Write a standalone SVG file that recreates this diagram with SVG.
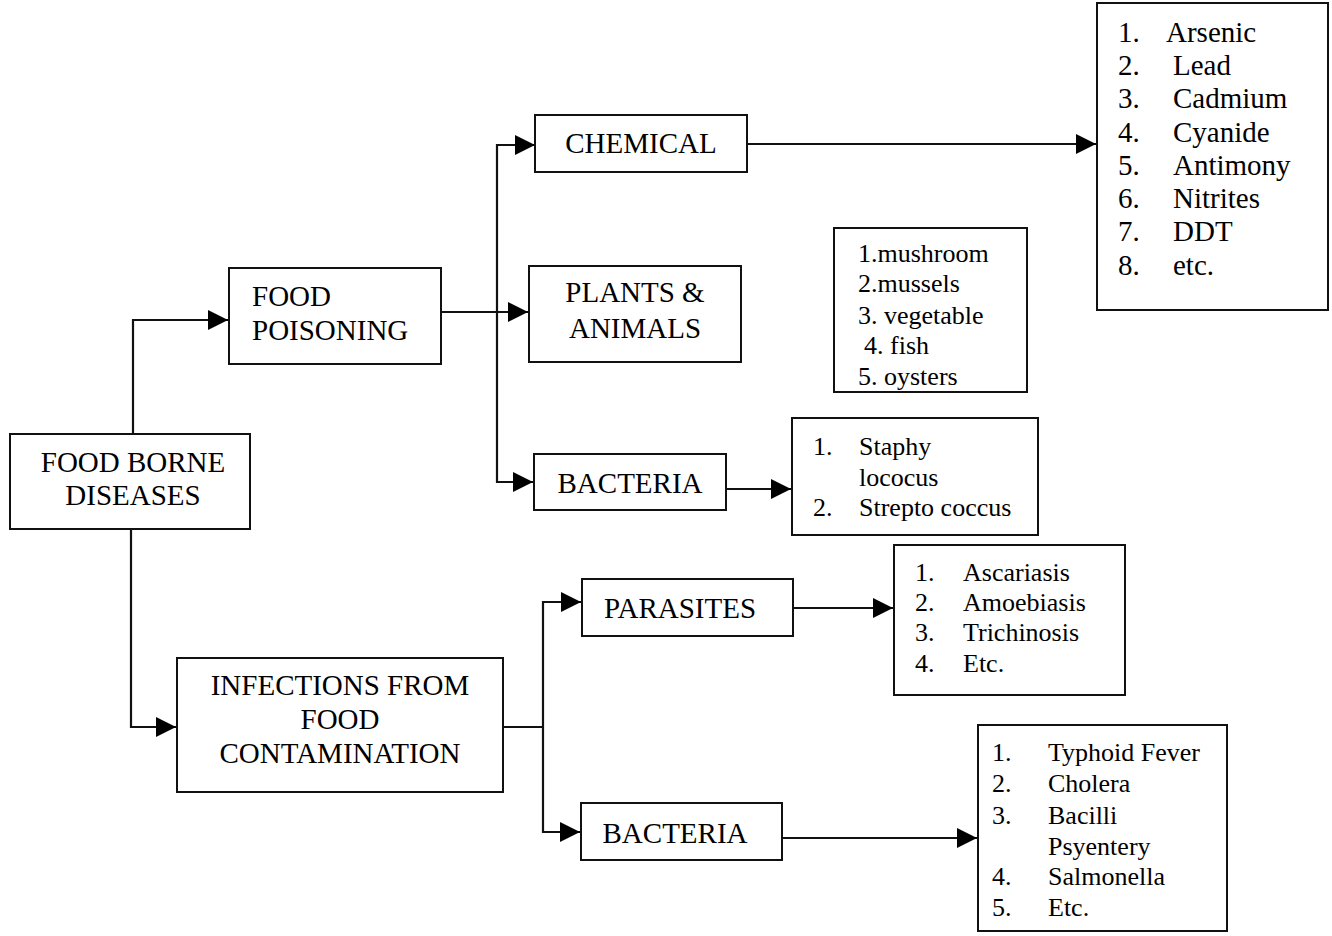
<svg xmlns="http://www.w3.org/2000/svg" width="1332" height="936" viewBox="0 0 1332 936">
<style>
.box{fill:#fff;stroke:#111;stroke-width:2}
.ln{fill:none;stroke:#111;stroke-width:2.2}
.arr{marker-end:url(#ah)}
text{font-family:"Liberation Serif","Times New Roman",serif;fill:#000}
.lb{font-size:29px}
.ls{font-size:26px}
.c{text-anchor:middle}
</style>
<defs>
<marker id="ah" viewBox="0 0 20 20" refX="20" refY="10" markerWidth="20" markerHeight="20" markerUnits="userSpaceOnUse" orient="auto">
<path d="M0,0 L20,10 L0,20 z" fill="#000"/>
</marker>
</defs>
<rect width="1332" height="936" fill="#fff"/>

<g id="connectors">
<path class="ln arr" d="M133,434 V320 H228"/>
<path class="ln arr" d="M131,529 V727 H176"/>
<path class="ln arr" d="M441,312 H528"/>
<path class="ln arr" d="M497,312 V145 H535"/>
<path class="ln arr" d="M497,312 V482 H533"/>
<path class="ln arr" d="M747,144 H1096"/>
<path class="ln arr" d="M726,489 H791"/>
<path class="ln" d="M503,727 H543"/>
<path class="ln arr" d="M543,727 V602 H581"/>
<path class="ln arr" d="M543,727 V832 H580"/>
<path class="ln arr" d="M793,608 H893"/>
<path class="ln arr" d="M782,838 H977"/>
</g>

<g id="food-borne">
<rect class="box" x="10" y="434" width="240" height="95"/>
<text class="lb c" x="133" y="472">FOOD BORNE</text>
<text class="lb c" x="133" y="505">DISEASES</text>
</g>

<g id="food-poisoning">
<rect class="box" x="229" y="268" width="212" height="96"/>
<text class="lb" x="252" y="306">FOOD</text>
<text class="lb" x="252" y="340">POISONING</text>
</g>

<g id="chemical">
<rect class="box" x="535" y="115" width="212" height="57"/>
<text class="lb c" x="641" y="153">CHEMICAL</text>
</g>

<g id="plants-animals">
<rect class="box" x="529" y="266" width="212" height="96"/>
<text class="lb c" x="635" y="302">PLANTS &amp;</text>
<text class="lb c" x="635" y="338">ANIMALS</text>
</g>

<g id="bacteria-poison">
<rect class="box" x="534" y="454" width="192" height="56"/>
<text class="lb c" x="630" y="493">BACTERIA</text>
</g>

<g id="chemical-list">
<rect class="box" x="1097" y="3" width="231" height="307"/>
<text class="lb" x="1118" y="42">1.</text><text class="lb" x="1166" y="42">Arsenic</text>
<text class="lb" x="1118" y="75">2.</text><text class="lb" x="1173" y="75">Lead</text>
<text class="lb" x="1118" y="108">3.</text><text class="lb" x="1173" y="108">Cadmium</text>
<text class="lb" x="1118" y="142">4.</text><text class="lb" x="1173" y="142">Cyanide</text>
<text class="lb" x="1118" y="175">5.</text><text class="lb" x="1173" y="175">Antimony</text>
<text class="lb" x="1118" y="208">6.</text><text class="lb" x="1173" y="208">Nitrites</text>
<text class="lb" x="1118" y="241">7.</text><text class="lb" x="1173" y="241">DDT</text>
<text class="lb" x="1118" y="275">8.</text><text class="lb" x="1173" y="275">etc.</text>
</g>

<g id="plants-list">
<rect class="box" x="834" y="228" width="193" height="164"/>
<text class="ls" x="858" y="262">1.mushroom</text>
<text class="ls" x="858" y="292">2.mussels</text>
<text class="ls" x="858" y="324">3. vegetable</text>
<text class="ls" x="864" y="354">4. fish</text>
<text class="ls" x="858" y="385">5. oysters</text>
</g>

<g id="bacteria-poison-list">
<rect class="box" x="792" y="418" width="246" height="117"/>
<text class="ls" x="813" y="455">1.</text><text class="ls" x="859" y="455">Staphy</text>
<text class="ls" x="859" y="486">lococus</text>
<text class="ls" x="813" y="516">2.</text><text class="ls" x="859" y="516">Strepto coccus</text>
</g>

<g id="infections">
<rect class="box" x="177" y="658" width="326" height="134"/>
<text class="lb c" x="340" y="695">INFECTIONS FROM</text>
<text class="lb c" x="340" y="729">FOOD</text>
<text class="lb c" x="340" y="763">CONTAMINATION</text>
</g>

<g id="parasites">
<rect class="box" x="582" y="579" width="211" height="57"/>
<text class="lb c" x="680" y="618">PARASITES</text>
</g>

<g id="parasites-list">
<rect class="box" x="894" y="545" width="231" height="150"/>
<text class="ls" x="915" y="581">1.</text><text class="ls" x="963" y="581">Ascariasis</text>
<text class="ls" x="915" y="611">2.</text><text class="ls" x="963" y="611">Amoebiasis</text>
<text class="ls" x="915" y="641">3.</text><text class="ls" x="963" y="641">Trichinosis</text>
<text class="ls" x="915" y="672">4.</text><text class="ls" x="963" y="672">Etc.</text>
</g>

<g id="bacteria-infect">
<rect class="box" x="581" y="803" width="201" height="57"/>
<text class="lb c" x="675" y="843">BACTERIA</text>
</g>

<g id="bacteria-infect-list">
<rect class="box" x="978" y="725" width="249" height="206"/>
<text class="ls" x="992" y="761">1.</text><text class="ls" x="1048" y="761">Typhoid Fever</text>
<text class="ls" x="992" y="792">2.</text><text class="ls" x="1048" y="792">Cholera</text>
<text class="ls" x="992" y="824">3.</text><text class="ls" x="1048" y="824">Bacilli</text>
<text class="ls" x="1048" y="855">Psyentery</text>
<text class="ls" x="992" y="885">4.</text><text class="ls" x="1048" y="885">Salmonella</text>
<text class="ls" x="992" y="916">5.</text><text class="ls" x="1048" y="916">Etc.</text>
</g>
</svg>
